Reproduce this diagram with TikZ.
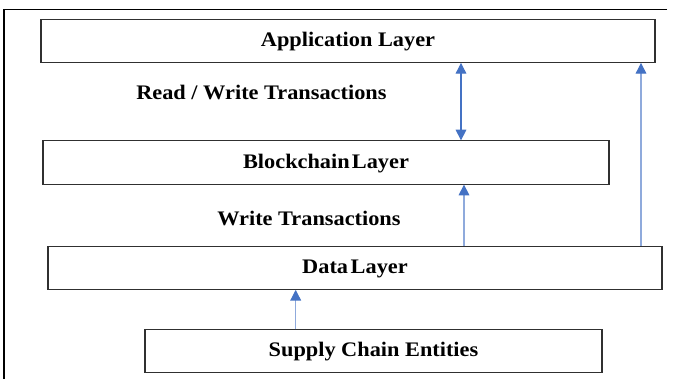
\documentclass[tikz,border=0pt]{standalone}
\usepackage{fontspec}
\setmainfont[FakeStretch=1.08]{Liberation Serif}
\usetikzlibrary{arrows.meta}
\definecolor{arrowblue}{HTML}{4472C4}
\definecolor{paleblue}{HTML}{8FAADC}
\definecolor{boxline}{HTML}{303030}
\begin{document}
\begin{tikzpicture}[x=0.75pt,y=-0.75pt,
  layerbox/.style={draw=boxline,line width=0.8pt,inner sep=0pt,
    font=\fontsize{15.5pt}{18pt}\selectfont\bfseries,
    text height=8.3pt,text depth=0pt},
  lbl/.style={inner sep=0pt,anchor=base west,
    font=\fontsize{15.5pt}{18pt}\selectfont\bfseries},
  tip/.style={-{Triangle[length=8pt,width=8pt,color=arrowblue]}},
  dtip/.style={{Triangle[length=8pt,width=8pt,color=arrowblue]}-{Triangle[length=8pt,width=8pt,color=arrowblue]}},
  link/.style={line width=0.8pt,draw=arrowblue},
  palelink/.style={line width=0.8pt,draw=paleblue}]
\useasboundingbox (0,0) rectangle (674,379);
\fill[white] (0,0) rectangle (674,379);

% outer frame: top and left edges
\draw[line width=1pt] (667,9.3) -- (4,9.3) -- (4,379);

% layers
\node[layerbox,minimum width=460.5pt,minimum height=32.4pt] (app) at (348,40.8) {Application Layer};
\node[layerbox,minimum width=424.5pt,minimum height=32.4pt] (bc) at (326,162.5) {Blockchain\hspace{1.6pt}Layer};
\node[layerbox,minimum width=460.5pt,minimum height=32.4pt] (data) at (355,267.7) {Data\hspace{2pt}Layer};
\node[layerbox,minimum width=342.75pt,minimum height=32.1pt] (sce) at (373.5,351.3) {Supply Chain Entities};

% transaction labels
\node[lbl] (rw) at (136,99) {Read / Write Transactions};
\node[lbl] (wt) at (217,225) {Write Transactions};

% connector positions
\coordinate (xrw) at (461,0);
\coordinate (xw) at (464,0);
\coordinate (xside) at (641,0);
\coordinate (xin) at (295.7,0);

\draw[link,dtip] (bc.north -| xrw) -- (app.south -| xrw);
\draw[palelink,tip] (data.north -| xw) -- (bc.south -| xw);
\draw[palelink,tip] (data.north -| xside) -- (app.south -| xside);
\draw[palelink,tip] (sce.north -| xin) -- (data.south -| xin);
\end{tikzpicture}
\end{document}
